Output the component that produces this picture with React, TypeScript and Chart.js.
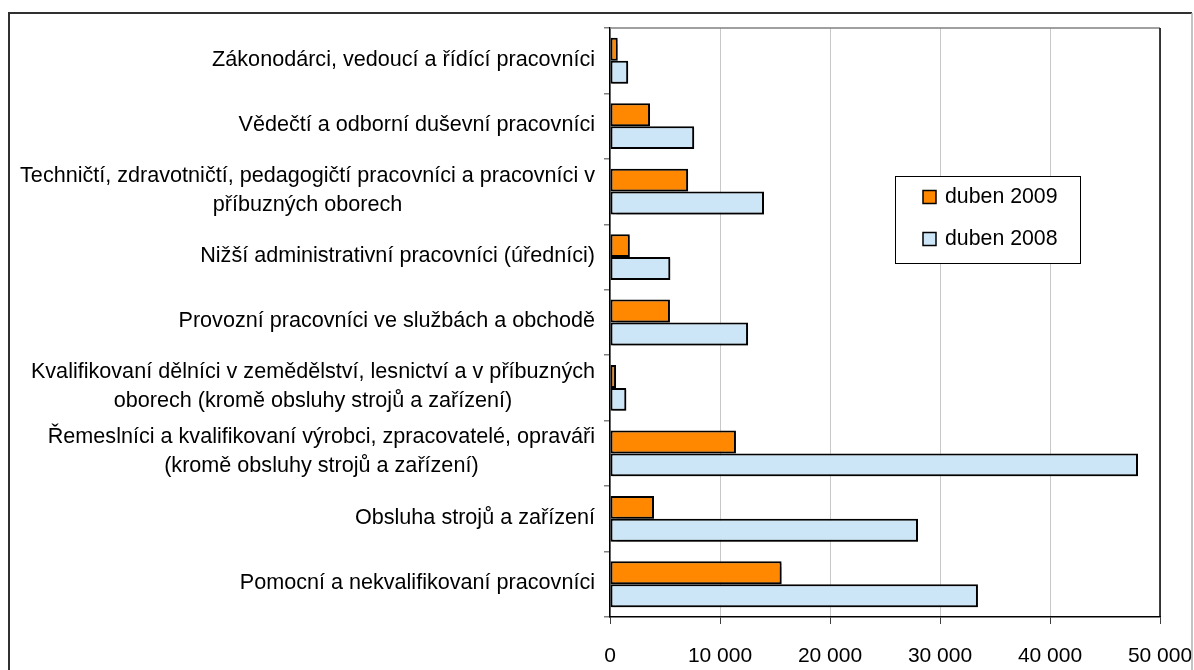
import React, { useEffect, useRef } from "react";
import { Chart, registerables } from "chart.js";

Chart.register(...registerables);

const categories: string[][] = [
  ["Zákonodárci, vedoucí a řídící pracovníci"],
  ["Vědečtí a odborní duševní pracovníci"],
  ["Techničtí, zdravotničtí, pedagogičtí pracovníci a pracovníci v", "příbuzných oborech"],
  ["Nižší administrativní pracovníci (úředníci)"],
  ["Provozní pracovníci ve službách a obchodě"],
  ["Kvalifikovaní dělníci v zemědělství, lesnictví a v příbuzných", "oborech (kromě obsluhy strojů a zařízení)"],
  ["Řemeslníci a kvalifikovaní výrobci, zpracovatelé, opraváři", "(kromě obsluhy strojů a zařízení)"],
  ["Obsluha strojů a zařízení"],
  ["Pomocní a nekvalifikovaní pracovníci"],
];

const seriesLabels = ["duben 2009", "duben 2008"];
const values2009 = [700, 3640, 7100, 1800, 5450, 550, 11450, 4000, 15600];
const values2008 = [1650, 7650, 14000, 5480, 12550, 1480, 48000, 28000, 33450];

const xMin = 0;
const xMax = 50000;
const xStep = 10000;

const FONT = '"Liberation Sans", Arial, sans-serif';
const COLORS = ["#FF8800", "#CCE6F8"];

function fmt(v: number): string {
  return String(v).replace(/\B(?=(\d{3})+(?!\d))/g, " ");
}

const framePlugin = {
  id: "frame",
  beforeDraw(chart: any) {
    const ctx = chart.ctx;
    ctx.save();
    ctx.fillStyle = "#ffffff";
    ctx.fillRect(0, 0, chart.width, chart.height);
    ctx.restore();
  },
  afterDraw(chart: any) {
    const ctx = chart.ctx;
    const a = chart.chartArea;
    ctx.save();
    // outer frame
    ctx.lineWidth = 2;
    ctx.strokeStyle = "#303030";
    ctx.beginPath();
    ctx.moveTo(9, 700);
    ctx.lineTo(9, 13);
    ctx.lineTo(1192, 13);
    ctx.stroke();
    ctx.lineWidth = 1.5;
    ctx.strokeStyle = "#b0b0b0";
    ctx.beginPath();
    ctx.moveTo(1192, 13);
    ctx.lineTo(1192, 700);
    ctx.stroke();
    // plot top border (gray) and right border (black)
    ctx.lineWidth = 1.5;
    ctx.strokeStyle = "#808080";
    ctx.beginPath();
    ctx.moveTo(a.left, a.top);
    ctx.lineTo(a.right, a.top);
    ctx.stroke();
    ctx.strokeStyle = "#000000";
    ctx.beginPath();
    ctx.moveTo(a.right, a.top);
    ctx.lineTo(a.right, a.bottom);
    ctx.stroke();

    // category labels
    const yScale = chart.scales.y;
    ctx.font = "21.6px " + FONT;
    ctx.fillStyle = "#000000";
    ctx.textAlign = "center";
    ctx.textBaseline = "middle";
    const rightEdge = 595;
    categories.forEach((lines, i) => {
      const cy = yScale.getPixelForValue(i);
      const w = Math.max(...lines.map((l) => ctx.measureText(l).width));
      const cx = rightEdge - w / 2;
      const n = lines.length;
      lines.forEach((l, j) => {
        const off = n > 1 ? -1.5 + (j - (n - 1) / 2) * 29 : -1;
        ctx.fillText(l, cx, cy + off);
      });
    });

    // legend
    const lx = 895, ly = 176, lw = 185, lh = 87;
    ctx.fillStyle = "#ffffff";
    ctx.fillRect(lx, ly, lw, lh);
    ctx.lineWidth = 1;
    ctx.strokeStyle = "#000000";
    ctx.strokeRect(lx + 0.5, ly + 0.5, lw, lh);
    const rows = [197, 239];
    ctx.font = "21.3px " + FONT;
    seriesLabels.forEach((lab, k) => {
      const ry = rows[k];
      ctx.fillStyle = COLORS[k];
      ctx.fillRect(923, ry - 6.5, 13, 13);
      ctx.lineWidth = 1.5;
      ctx.strokeStyle = "#000000";
      ctx.strokeRect(923, ry - 6.5, 13, 13);
      ctx.fillStyle = "#000000";
      ctx.textAlign = "left";
      ctx.textBaseline = "middle";
      ctx.fillText(lab, 945, ry);
    });
    ctx.restore();
  },
};

const shadowPlugin = {
  id: "barShadow",
  beforeDatasetsDraw(chart: any) {
    const ctx = chart.ctx;
    ctx.save();
    ctx.shadowColor = "rgba(0,0,0,0.35)";
    ctx.shadowOffsetX = 2;
    ctx.shadowOffsetY = 2;
    ctx.shadowBlur = 1;
  },
  afterDatasetsDraw(chart: any) {
    chart.ctx.restore();
  },
};

export default function App() {
  const ref = useRef<HTMLCanvasElement | null>(null);

  useEffect(() => {
    if (!ref.current) return;
    const chart = new Chart(ref.current, {
      type: "bar",
      data: {
        labels: categories.map((c) => c.join(" ")),
        datasets: [
          {
            label: seriesLabels[0],
            data: values2009,
            backgroundColor: COLORS[0],
            borderColor: "#000000",
            borderWidth: 2,
            borderSkipped: false,
            categoryPercentage: 0.7,
            barPercentage: 1.0,
          },
          {
            label: seriesLabels[1],
            data: values2008,
            backgroundColor: COLORS[1],
            borderColor: "#000000",
            borderWidth: 2,
            borderSkipped: false,
            categoryPercentage: 0.7,
            barPercentage: 1.0,
          },
        ],
      },
      options: {
        indexAxis: "y",
        responsive: false,
        animation: false,
        devicePixelRatio: 1,
        layout: { padding: { left: 0, right: 34, top: 28, bottom: 0 } },
        plugins: {
          legend: { display: false },
          tooltip: { enabled: false },
        },
        scales: {
          x: {
            min: xMin,
            max: xMax,
            ticks: {
              stepSize: xStep,
              color: "#000000",
              font: { family: FONT, size: 21 },
              padding: 20,
              callback: (v: any) => fmt(Number(v)),
            },
            grid: {
              color: "#c8c8c8",
              lineWidth: 1,
              tickColor: "#404040",
              tickLength: 7,
            },
            border: { color: "#000000", width: 1.5 },
            afterFit: (s: any) => {
              s.height = 53;
              s.paddingLeft = 0;
              s.paddingRight = 0;
            },
          },
          y: {
            ticks: { display: false },
            grid: {
              drawOnChartArea: false,
              offset: true,
              tickLength: 6,
              tickColor: "#808080",
              lineWidth: 1.5,
            },
            border: { color: "#000000", width: 1.5 },
            afterFit: (s: any) => {
              s.width = 610;
              s.paddingTop = 0;
              s.paddingBottom = 0;
            },
          },
        },
      },
      plugins: [shadowPlugin, framePlugin],
    });
    return () => chart.destroy();
  }, []);

  return (
    <div style={{ position: "fixed", left: 0, top: 0, width: 1194, height: 670, background: "#fff" }}>
      <canvas ref={ref} width={1194} height={670} style={{ display: "block", width: 1194, height: 670 }} />
    </div>
  );
}
